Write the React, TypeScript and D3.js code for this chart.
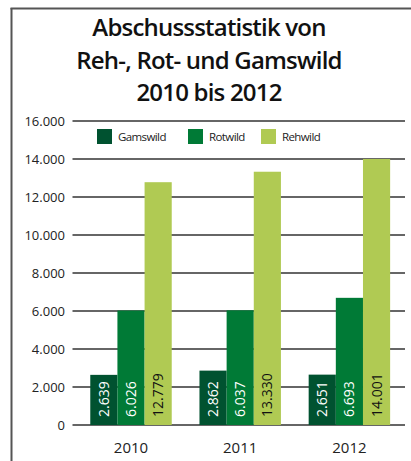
import React from "react";
import * as d3 from "d3";

const years = ["2010", "2011", "2012"];
const seriesNames = ["Gamswild", "Rotwild", "Rehwild"];
const gamswild = [2639, 2862, 2651];
const rotwild = [6026, 6037, 6693];
const rehwild = [12779, 13330, 14001];
const valueLabels = [
  ["2.639", "2.862", "2.651"],
  ["6.026", "6.037", "6.693"],
  ["12.779", "13.330", "14.001"],
];
const yTicks = [0, 2000, 4000, 6000, 8000, 10000, 12000, 14000, 16000];
const yTickLabels = ["0", "2.000", "4.000", "6.000", "8.000", "10.000", "12.000", "14.000", "16.000"];
const colors = ["#005230", "#007a36", "#b0ca53"];
const labelColors = ["#ffffff", "#ffffff", "#111111"];
const titleLines = ["Abschussstatistik von", "Reh-, Rot- und Gamswild", "2010 bis 2012"];

export default function App() {
  const W = 411, H = 461;
  const seriesValues = [gamswild, rotwild, rehwild];
  const y = d3.scaleLinear().domain([0, 16000]).range([425, 121]);
  const x0 = d3.scaleBand<string>().domain(years).range([76.4, 404]).paddingInner(0.254).paddingOuter(0.127);
  const x1 = d3.scaleBand<string>().domain(seriesNames).range([0, x0.bandwidth()]);
  const font = "'Open Sans', 'DejaVu Sans', sans-serif";
  const legendX = [97, 188, 261];

  return (
    <svg width={W} height={H} style={{ position: "absolute", left: 0, top: 0, background: "#fff" }}>
      <rect x={0} y={0} width={W} height={H} fill="#fff" />
      {/* frame */}
      <line x1={11.5} y1={8} x2={11.5} y2={H} stroke="#555" strokeWidth={2} />
      <line x1={10.5} y1={8.5} x2={W} y2={8.5} stroke="#555" strokeWidth={2} />
      {/* title */}
      {titleLines.map((t, i) => (
        <text key={i} x={209} y={36 + i * 32.5} textAnchor="middle" fontFamily={font}
          fontWeight={600} fontSize={24} letterSpacing={-0.8} fill="#111">{t}</text>
      ))}
      {/* grid + y ticks */}
      {yTicks.map((t, i) => (
        <g key={t}>
          <line x1={72.5} x2={405} y1={y(t)} y2={y(t)} stroke="#333" strokeWidth={1.4} />
          <text x={65} y={y(t)} dy="0.35em" textAnchor="end" fontFamily={font} fontSize={13} fill="#222">{yTickLabels[i]}</text>
        </g>
      ))}
      {/* legend */}
      <rect x={72} y={124} width={333} height={26} fill="#fff" />
      {seriesNames.map((s, i) => (
        <g key={s}>
          <rect x={legendX[i]} y={129} width={15} height={15} fill={colors[i]} />
          <text x={legendX[i] + 21} y={137} dy="0.35em" fontFamily={font} fontSize={11.5}
            letterSpacing={-0.6} fill="#222">{s}</text>
        </g>
      ))}
      {/* bars */}
      {years.map((yr, gi) => (
        <g key={yr} transform={`translate(${x0(yr)},0)`}>
          {seriesNames.map((s, si) => {
            const v = seriesValues[si][gi];
            const bx = x1(s)!;
            const bw = x1.bandwidth();
            return (
              <g key={s}>
                <rect x={bx} y={y(v)} width={bw} height={y(0) - y(v)} fill={colors[si]} />
                <text transform={`translate(${bx + bw / 2},${y(0) - 8}) rotate(-90)`} dy="0.36em"
                  fontFamily={font} fontSize={14} fontWeight={500} fill={labelColors[si]}>{valueLabels[si][gi]}</text>
              </g>
            );
          })}
          <text x={x0.bandwidth() / 2} y={453} textAnchor="middle" fontFamily={font} fontSize={15} fill="#222">{yr}</text>
        </g>
      ))}
    </svg>
  );
}
